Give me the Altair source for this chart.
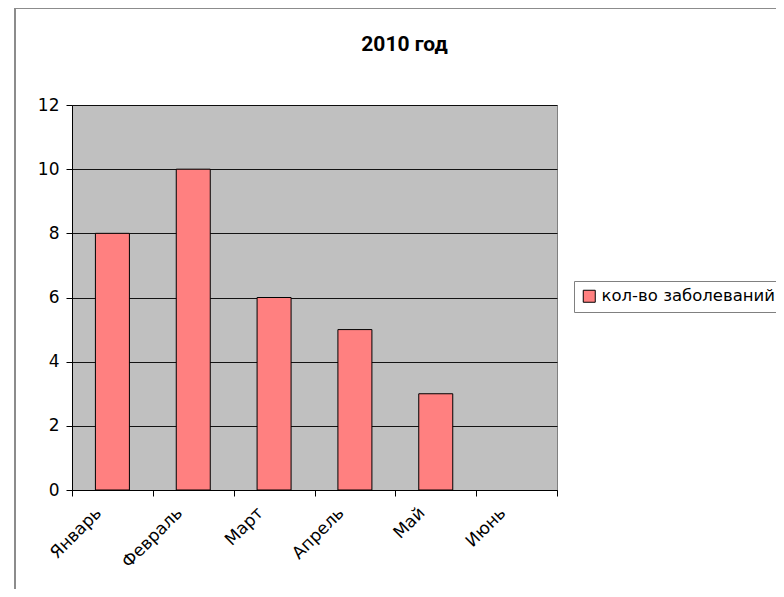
import altair as alt
import pandas as pd

months = ["Январь", "Февраль", "Март", "Апрель", "Май", "Июнь"]
values = [8, 10, 6, 5, 3, None]
series_name = "кол-во заболеваний"
y_ticks = [0, 2, 4, 6, 8, 10, 12]

df = pd.DataFrame({"month": months, "value": values, "series": [series_name] * len(months)})

FONT = "DejaVu Sans"

border = alt.Chart(pd.DataFrame({"a": [0]})).mark_rect(
    fill="white", fillOpacity=0, stroke="#8c8c8c", strokeWidth=2
).encode(
    x=alt.value(-57), x2=alt.value(760), y=alt.value(-97), y2=alt.value(520)
)

bars = alt.Chart(df).mark_bar(stroke="black", strokeWidth=1, size=34).encode(
    x=alt.X("month:N", sort=months, title=None,
            scale=alt.Scale(domain=months, paddingInner=0, paddingOuter=0),
            axis=alt.Axis(labelAngle=-45, labelAlign="right", labelBaseline="middle",
                          labelFont=FONT, labelFontSize=17, labelColor="black",
                          labelPadding=14, labelOffset=-14,
                          tickBand="extent", tickColor="black", tickSize=6,
                          domainColor="black", grid=False)),
    y=alt.Y("value:Q", title=None,
            scale=alt.Scale(domain=[0, 12], nice=False),
            axis=alt.Axis(values=y_ticks, labelFont=FONT, labelFontSize=17,
                          labelColor="black", labelPadding=7, tickColor="black", tickSize=6,
                          domainColor="black", grid=True, gridColor="black", gridOpacity=0.9)),
    color=alt.Color("series:N", scale=alt.Scale(range=["#FF8080"]),
                    legend=alt.Legend(title=None, orient="none", legendX=502, legendY=176,
                                      strokeColor="#808080", padding=7, symbolType="square",
                                      symbolSize=144, symbolStrokeColor="black",
                                      symbolStrokeWidth=1, labelFont=FONT,
                                      labelFontSize=16.5, labelColor="black", labelLimit=400,
                                      labelOffset=4)),
)

chart = alt.layer(border, bars).properties(
    width=485, height=385,
    title=alt.TitleParams("2010 год", anchor="middle", dx=90, offset=-48,
                          font="Roboto", fontSize=21, fontWeight="bold",
                          color="black"),
    padding={"left": 64, "top": 97, "right": 219, "bottom": 99},
    autosize=alt.AutoSizeParams(type="none"),
    background="white",
).configure_view(fill="#C0C0C0", stroke="#808080")

chart.save("out.html", embed_options={"renderer": "svg", "actions": False})
